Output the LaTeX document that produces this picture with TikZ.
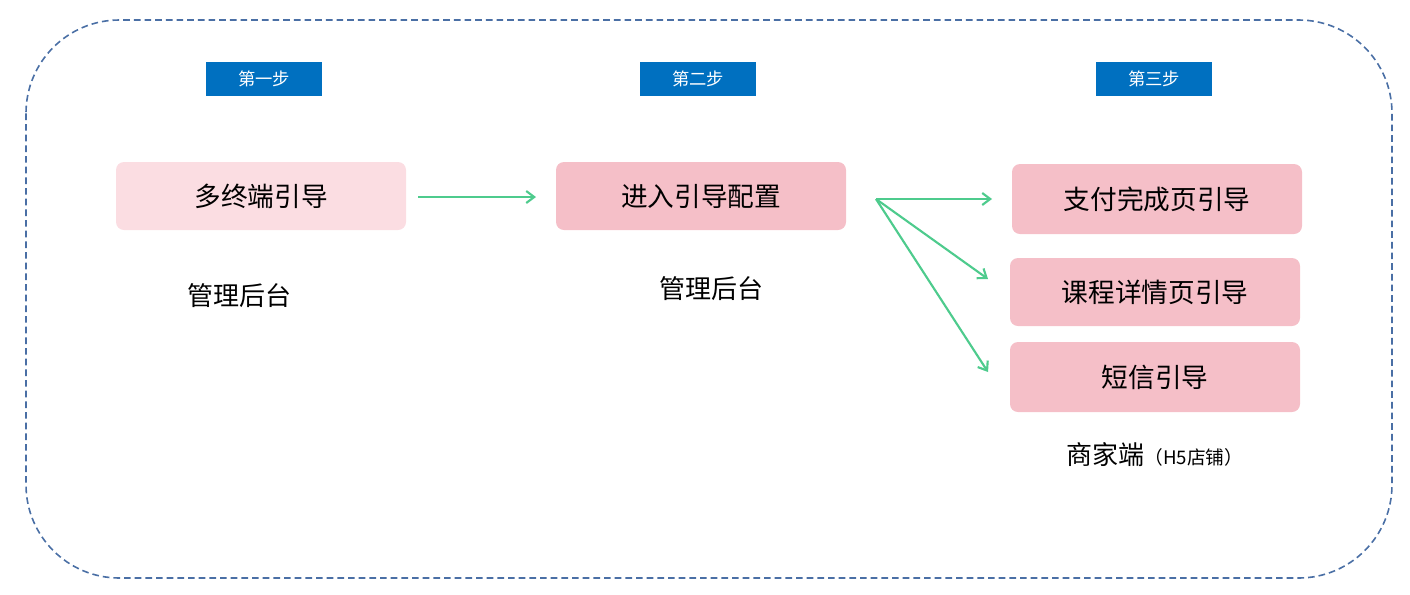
\documentclass[tikz,border=0pt]{standalone}
\usepackage{fontspec}
\setmainfont{Noto Sans CJK SC}
\usetikzlibrary{arrows.meta}
\definecolor{frame}{HTML}{4A6FA5}
\definecolor{lightpink}{HTML}{FBDDE2}
\definecolor{pink}{HTML}{F5BFC8}
\definecolor{hdr}{HTML}{0070C0}
\definecolor{grn}{HTML}{4ECB8D}
\begin{document}
\begin{tikzpicture}[x=0.75pt,y=-0.75pt,
  box/.style={rounded corners=6pt,font=\fontsize{20}{22}\selectfont,inner sep=0pt},
  hbox/.style={fill=hdr,text=white,font=\fontsize{13}{14}\selectfont,inner sep=0pt},
  lbl/.style={font=\fontsize{19.5}{21}\selectfont},
  arr/.style={grn,line width=1.6pt,-{Straight Barb[length=6pt,width=9pt]}}]
\useasboundingbox (0,0) rectangle (1410,594);
\draw[frame,dash pattern=on 5pt off 3pt,line width=1.2pt,rounded corners=70pt] (26,20) rectangle (1392,578);
\node[hbox,minimum width=87pt,minimum height=25.5pt] (h1) at (264,79) {第一步};
\node[hbox,minimum width=87pt,minimum height=25.5pt] (h2) at (698,79) {第二步};
\node[hbox,minimum width=87pt,minimum height=25.5pt] (h3) at (1154,79) {第三步};
\node[box,fill=lightpink,minimum width=217.5pt,minimum height=51pt] (a) at (261,196) {多终端引导};
\node[box,fill=pink,minimum width=217.5pt,minimum height=51pt] (b) at (701,196) {进入引导配置};
\node[box,fill=pink,minimum width=217.5pt,minimum height=52.5pt] (c1) at (1157,199) {支付完成页引导};
\node[box,fill=pink,minimum width=217.5pt,minimum height=51pt] (c2) at (1155,292) {课程详情页引导};
\node[box,fill=pink,minimum width=217.5pt,minimum height=52.5pt] (c3) at (1155,377) {短信引导};
\node[lbl] (l1) at (239,296) {管理后台};
\node[lbl] (l2) at (711,289) {管理后台};
\node[lbl] (l3) at (1155,455) {商家端\fontsize{14}{16}\selectfont（H5店铺）};
\coordinate (s1) at (418,197);
\coordinate (e1) at (536,197);
\coordinate (s2) at (876,199);
\draw[arr] (s1) -- (e1);
\draw[arr] (s2) -- (992,199);
\draw[arr] (s2) -- (988,279);
\draw[arr] (s2) -- (988,372);
\end{tikzpicture}
\end{document}
